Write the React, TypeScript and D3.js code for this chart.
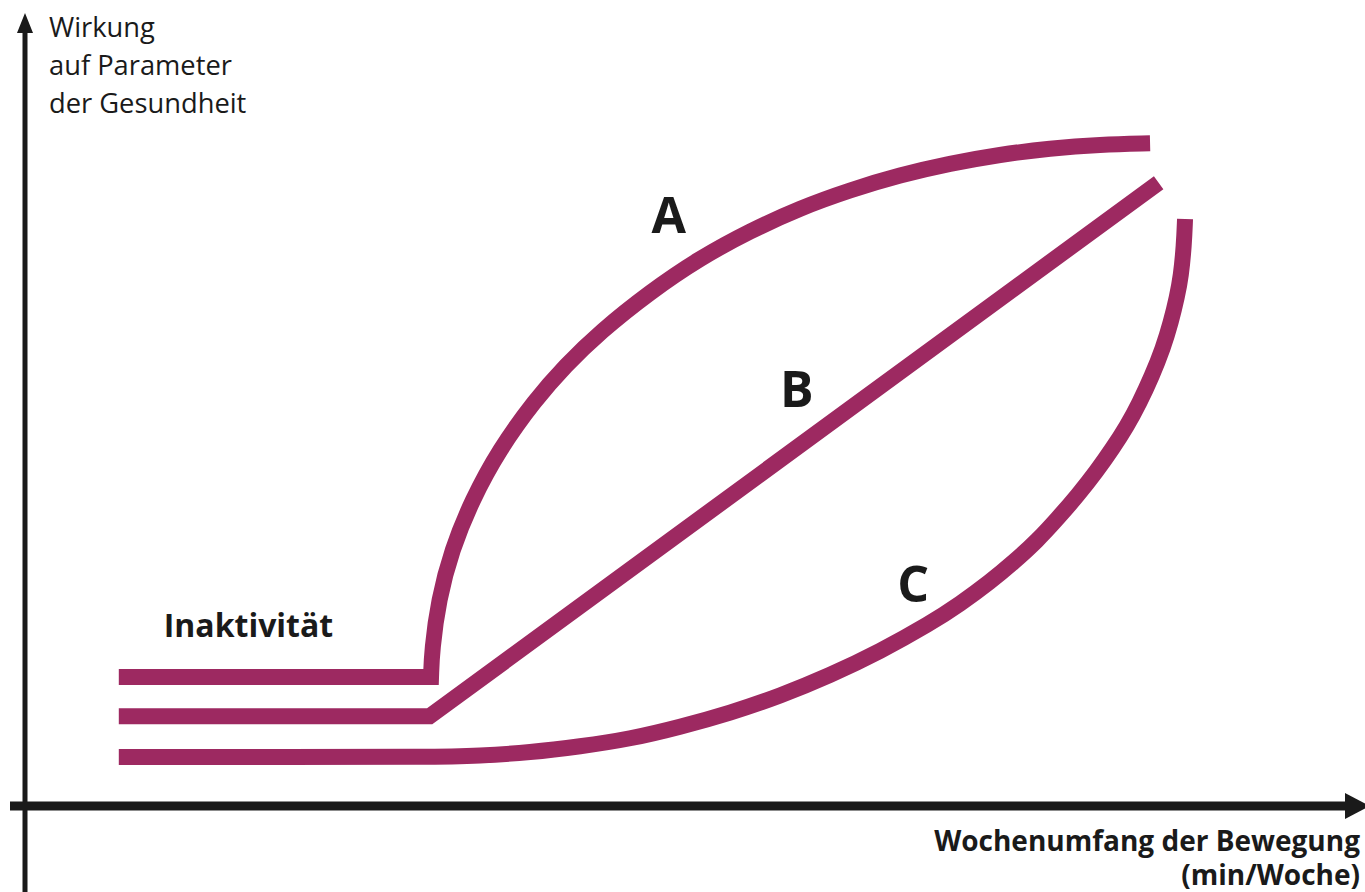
import React from "react";
import * as d3 from "d3";

const W = 1365;
const H = 892;

// Relative units: x = Wochenumfang (0..100), y = Wirkung (0..100)
const curveAFlat: [number, number][] = [
  [7, 16.25],
  [30.3, 16.25],
];
const curveARise: [number, number][] = [
  [30.3, 16.25],
  [30.37, 19.65],
  [30.86, 25.94],
  [31.84, 32.24],
  [33.36, 38.54],
  [35.37, 44.84],
  [38.06, 51.13],
  [40.3, 55.42],
  [42.91, 59.7],
  [46.64, 64.74],
  [50.37, 69.02],
  [54.1, 72.42],
  [57.84, 75.31],
  [61.57, 77.58],
  [65.3, 79.47],
  [69.03, 80.92],
  [72.76, 82.05],
  [76.49, 82.83],
  [80.22, 83.31],
  [83.96, 83.46],
];
const curveB: [number, number][] = [
  [7, 11.3],
  [30.2, 11.3],
  [84.6, 78.5],
];
const curveC: [number, number][] = [
  [7, 6.17],
  [20, 6.17],
  [30.22, 6.17],
  [33.96, 6.32],
  [37.69, 6.74],
  [41.42, 7.49],
  [45.15, 8.44],
  [48.88, 9.95],
  [52.61, 11.71],
  [56.34, 13.85],
  [60.07, 16.44],
  [63.81, 19.46],
  [67.54, 22.98],
  [69.78, 25.44],
  [72.01, 28.21],
  [73.88, 30.86],
  [75.52, 33.38],
  [77.09, 36.27],
  [78.58, 39.17],
  [79.93, 42.07],
  [81.19, 45.09],
  [82.24, 47.86],
  [83.13, 50.63],
  [84.1, 54.16],
  [84.93, 57.68],
  [85.52, 60.96],
  [85.97, 64.11],
  [86.27, 66.75],
  [86.49, 70.65],
  [86.57, 73.93],
];

const yLabelLines = ["Wirkung", "auf Parameter", "der Gesundheit"];
const xLabelLines = ["Wochenumfang der Bewegung", "(min/Woche)"];
const curveLabels = [
  { text: "A", x: 46.75, y: 72.2 },
  { text: "B", x: 56.35, y: 50.3 },
  { text: "C", x: 65.1, y: 25.7 },
];
const inactiveLabel = { text: "Inaktivität", x: 10.35, y: 21.3 };

const COLOR = "#9d2961";
const INK = "#1a1a1a";
const FONT = "'Open Sans', 'Noto Sans', sans-serif";

export default function App() {
  const x = d3.scaleLinear().domain([0, 100]).range([25, 1365]);
  const y = d3.scaleLinear().domain([0, 100]).range([806, 12]);

  const linear = d3
    .line<[number, number]>()
    .x((d) => x(d[0]))
    .y((d) => y(d[1]));
  const smooth = d3
    .line<[number, number]>()
    .x((d) => x(d[0]))
    .y((d) => y(d[1]))
    .curve(d3.curveBasis);

  const flat = linear(curveAFlat) || "";
  const rise = smooth(curveARise) || "";
  const dA = flat + "L" + rise.slice(1);
  const dB = linear(curveB) || "";
  const dC = smooth(curveC) || "";

  const ox = x(0);
  const oy = y(0);

  return (
    <svg
      width={W}
      height={H}
      viewBox={`0 0 ${W} ${H}`}
      style={{ position: "absolute", left: 0, top: 0, background: "#fff" }}
    >
      {/* axes */}
      <line x1={ox} y1={H} x2={ox} y2={30} stroke={INK} strokeWidth={5} />
      <polygon points={`${ox},13 ${ox - 8},33 ${ox + 8},33`} fill={INK} />
      <line x1={10} y1={oy} x2={1347} y2={oy} stroke={INK} strokeWidth={9} />
      <polygon
        points={`1370,${oy} 1345,${oy - 13} 1345,${oy + 13}`}
        fill={INK}
      />

      {/* curves */}
      {[dA, dB, dC].map((d, i) => (
        <path
          key={i}
          d={d}
          fill="none"
          stroke={COLOR}
          strokeWidth={16}
          strokeLinejoin="miter"
          strokeLinecap="butt"
        />
      ))}

      {/* y label */}
      <text fontFamily={FONT} fontSize={27.3} fill={INK}>
        {yLabelLines.map((t, i) => (
          <tspan key={i} x={49} y={37 + i * 38}>
            {t}
          </tspan>
        ))}
      </text>

      {/* x label */}
      <text
        fontFamily={FONT}
        fontSize={28}
        fontWeight={700}
        fill={INK}
        textAnchor="end"
      >
        {xLabelLines.map((t, i) => (
          <tspan key={i} x={1360} y={851 + i * 34}>
            {t}
          </tspan>
        ))}
      </text>

      <text
        x={x(inactiveLabel.x)}
        y={y(inactiveLabel.y)}
        fontFamily={FONT}
        fontSize={32}
        fontWeight={700}
        fill={INK}
      >
        {inactiveLabel.text}
      </text>

      {curveLabels.map((l) => (
        <text
          key={l.text}
          x={x(l.x)}
          y={y(l.y)}
          fontFamily={FONT}
          fontSize={50}
          fontWeight={700}
          fill={INK}
        >
          {l.text}
        </text>
      ))}
    </svg>
  );
}
